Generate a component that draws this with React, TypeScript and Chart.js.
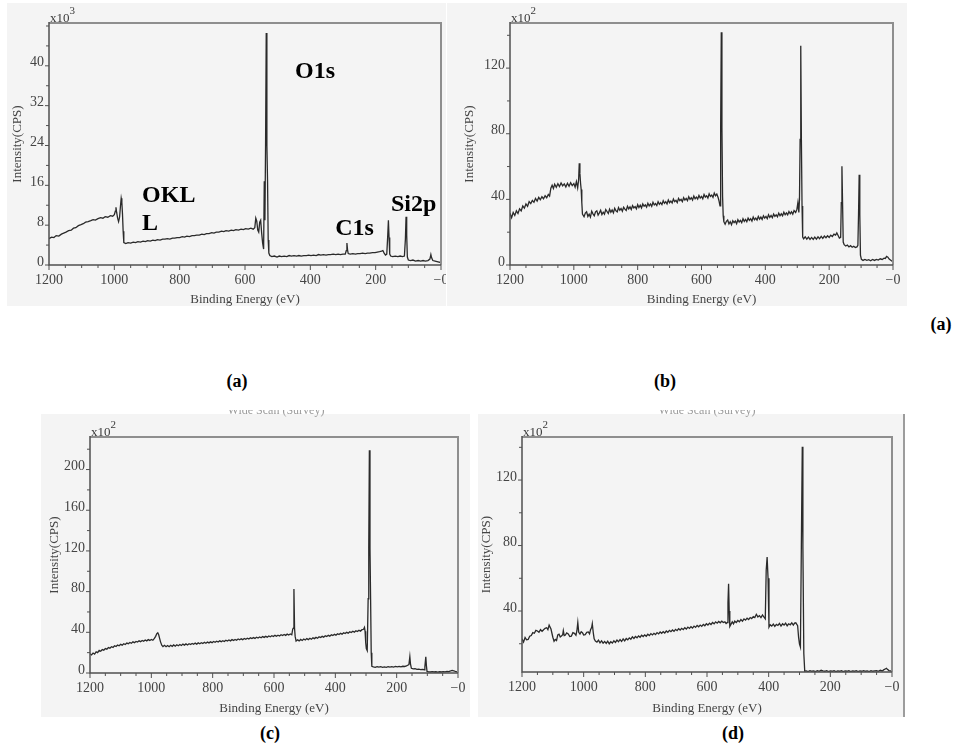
import React, { useEffect, useRef } from "react";
import { Chart, registerables } from "chart.js";

Chart.register(...registerables);

type Pt = [number, number];

// (a) survey, intensity in 10^3 CPS — [binding energy eV, intensity]
const spectrumA: Pt[] = [
  [1200, 5.3], [1192, 5.6], [1185, 5.5], [1178, 5.9], [1170, 5.8], [1162, 6.2], [1155, 6.4], [1148, 6.6],
  [1140, 6.9], [1132, 7.0], [1125, 7.4], [1118, 7.5], [1110, 7.9], [1102, 8.1], [1095, 8.3], [1088, 8.6],
  [1080, 8.7], [1072, 8.9], [1065, 9.1], [1058, 9.0], [1050, 9.3], [1042, 9.5], [1035, 9.4], [1028, 9.7],
  [1020, 9.6], [1012, 9.9], [1005, 9.8], [1000, 10.1], [997, 10.8], [995, 11.6], [993, 10.6], [990, 9.4],
  [987, 8.7], [984, 9.6], [981, 12.0], [979, 13.4], [977, 12.6], [975, 10.2], [973, 6.8], [971, 4.5],
  [965, 4.3], [958, 4.5], [950, 4.4], [942, 4.6], [935, 4.5], [928, 4.7], [920, 4.6], [912, 4.8],
  [905, 4.7], [898, 4.9], [890, 4.8], [882, 5.0], [875, 4.9], [868, 5.1], [860, 5.0], [852, 5.2],
  [845, 5.2], [838, 5.3], [830, 5.2], [822, 5.4], [815, 5.4], [808, 5.5], [800, 5.5], [792, 5.7],
  [785, 5.6], [778, 5.8], [770, 5.7], [762, 5.9], [755, 5.9], [748, 6.0], [740, 6.0], [732, 6.2],
  [725, 6.1], [718, 6.3], [710, 6.3], [702, 6.5], [695, 6.4], [688, 6.6], [680, 6.6], [672, 6.8],
  [665, 6.7], [658, 6.9], [650, 6.8], [642, 7.0], [635, 6.9], [628, 7.1], [620, 7.0], [612, 7.2],
  [605, 7.1], [598, 7.3], [590, 7.2], [582, 7.4], [575, 7.2], [570, 7.5], [567, 9.4], [564, 8.8],
  [561, 7.0], [558, 6.6], [555, 8.6], [552, 9.0], [549, 6.4], [546, 4.4], [543, 3.2], [541, 16.8],
  [539, 9.0], [537, 24.5], [535, 46.6], [533, 24.0], [531, 17.0], [529, 5.0], [527, 2.4], [524, 1.9],
  [518, 1.7], [510, 1.8], [502, 1.6], [495, 1.8], [488, 1.7], [480, 1.8], [472, 1.7], [465, 1.9],
  [458, 1.8], [450, 1.9], [442, 1.8], [435, 1.9], [428, 1.8], [420, 1.9], [412, 1.9], [405, 2.0],
  [398, 1.9], [390, 2.0], [382, 1.9], [375, 2.1], [368, 2.0], [360, 2.1], [352, 2.0], [345, 2.1],
  [338, 2.1], [330, 2.2], [322, 2.1], [315, 2.2], [308, 2.1], [300, 2.2], [293, 2.2], [290, 2.9],
  [288, 4.4], [286, 3.0], [284, 2.3], [278, 2.2], [270, 2.3], [262, 2.2], [255, 2.3], [248, 2.3],
  [240, 2.4], [232, 2.3], [225, 2.4], [218, 2.4], [210, 2.5], [202, 2.5], [195, 2.6], [188, 2.7],
  [182, 2.8], [178, 2.9], [174, 2.4], [170, 2.0], [166, 2.2], [163, 6.0], [161, 9.0], [159, 5.5],
  [157, 2.2], [154, 1.8], [148, 1.7], [140, 1.8], [132, 1.7], [125, 1.8], [118, 1.7], [112, 1.8],
  [109, 5.2], [107, 9.7], [105, 6.0], [103, 1.6], [100, 1.0], [93, 0.9], [86, 1.0], [78, 0.8],
  [70, 0.9], [62, 0.8], [55, 0.9], [48, 0.8], [40, 0.9], [34, 1.2], [31, 2.1], [29, 1.5],
  [25, 0.9], [18, 0.8], [12, 0.7], [6, 0.6], [0, 0.5],
];

// (b) survey, intensity in 10^2 CPS
const spectrumB: Pt[] = [
  [1200, 31.5], [1195, 28.8], [1190, 32.0], [1185, 30.2], [1180, 33.0], [1175, 31.4], [1170, 34.2], [1165, 33.0],
  [1160, 36.0], [1155, 34.6], [1150, 37.2], [1145, 35.8], [1140, 38.6], [1135, 37.4], [1130, 39.4], [1125, 38.2],
  [1120, 40.6], [1115, 39.0], [1110, 41.2], [1105, 39.8], [1100, 41.6], [1095, 40.4], [1090, 42.2], [1085, 41.0],
  [1080, 43.0], [1076, 42.0], [1072, 46.8], [1068, 48.6], [1064, 46.6], [1060, 49.2], [1055, 47.4], [1050, 49.6],
  [1045, 47.8], [1040, 50.0], [1035, 48.2], [1030, 49.4], [1025, 47.6], [1020, 49.8], [1015, 48.0], [1010, 50.2],
  [1005, 48.4], [1000, 49.6], [996, 47.4], [992, 50.8], [988, 47.0], [985, 52.0], [983, 62.0], [981, 56.0],
  [979, 50.0], [977, 46.0], [975, 38.0], [973, 31.0],
  [968, 29.4], [964, 31.6], [960, 32.4], [956, 29.6], [952, 31.0], [948, 29.2], [944, 32.8], [940, 31.2],
  [936, 30.0], [932, 32.4], [928, 33.0], [924, 30.4], [920, 31.8], [916, 33.4], [912, 30.8], [908, 32.2],
  [904, 31.0], [900, 33.8], [896, 32.6], [892, 31.4], [888, 34.0], [884, 32.2], [880, 33.6], [876, 31.8],
  [872, 34.6], [868, 33.0], [864, 32.4], [860, 35.0], [856, 33.4], [852, 34.4], [848, 32.8], [844, 35.2],
  [840, 34.0], [836, 33.2], [832, 35.8], [828, 34.2], [824, 35.4], [820, 33.8], [816, 36.2], [812, 34.8],
  [808, 35.6], [804, 34.2], [800, 36.8], [796, 35.0], [792, 36.4], [788, 34.8], [784, 37.2], [780, 35.8],
  [776, 36.6], [772, 35.2], [768, 37.6], [764, 36.0], [760, 37.2], [756, 35.8], [752, 38.2], [748, 36.6],
  [744, 37.4], [740, 36.2], [736, 38.6], [732, 37.0], [728, 38.0], [724, 36.8], [720, 39.2], [716, 37.6],
  [712, 38.6], [708, 37.2], [704, 39.6], [700, 38.0], [696, 39.0], [692, 37.8], [688, 40.2], [684, 38.6],
  [680, 39.4], [676, 38.0], [672, 40.6], [668, 39.2], [664, 40.0], [660, 38.6], [656, 41.0], [652, 39.6],
  [648, 40.6], [644, 39.2], [640, 41.6], [636, 40.0], [632, 41.0], [628, 39.6], [624, 42.0], [620, 40.4],
  [616, 41.4], [612, 40.2], [608, 42.4], [604, 40.8], [600, 41.8], [596, 40.4], [592, 43.0], [588, 41.4],
  [584, 42.2], [580, 40.8], [576, 43.4], [572, 41.8], [568, 42.6], [564, 41.2], [560, 43.8], [556, 42.2],
  [552, 43.2], [548, 41.2], [545, 39.0], [542, 36.0], [540, 84.0], [538, 141.8], [536, 84.0], [534, 42.0],
  [532, 30.0], [530, 26.4], [526, 24.8], [522, 26.6], [518, 27.4], [514, 25.0], [510, 26.4], [506, 24.6],
  [502, 27.0], [498, 25.8], [494, 26.8], [490, 25.2], [486, 27.6], [482, 26.2], [478, 27.2], [474, 25.8],
  [470, 28.2], [466, 26.6], [462, 27.8], [458, 26.4], [454, 28.6], [450, 27.2], [446, 28.2], [442, 26.8],
  [438, 29.2], [434, 27.6], [430, 28.6], [426, 27.4], [422, 29.6], [418, 28.0], [414, 29.2], [410, 27.8],
  [406, 30.0], [402, 28.6], [398, 29.6], [394, 28.2], [390, 30.6], [386, 29.0], [382, 30.2], [378, 28.8],
  [374, 31.0], [370, 29.6], [366, 30.6], [362, 29.4], [358, 31.6], [354, 30.0], [350, 31.2], [346, 30.0],
  [342, 32.2], [338, 30.6], [334, 31.8], [330, 30.6], [326, 32.6], [322, 31.2], [318, 32.4], [314, 31.0],
  [310, 33.2], [305, 32.0], [301, 34.0], [298, 38.0],
  [295, 32.0], [293, 40.0], [291, 76.5], [289, 133.7], [287, 76.0], [285, 36.0], [283, 17.0], [280, 16.0],
  [275, 17.2], [270, 15.8], [265, 17.0], [260, 15.6], [255, 16.8], [250, 15.6], [245, 17.0], [240, 15.8],
  [235, 17.2], [230, 16.0], [225, 17.4], [220, 16.2], [215, 17.6], [210, 16.6], [205, 17.8], [200, 16.8],
  [195, 18.2], [190, 17.4], [185, 18.8], [180, 18.2], [176, 19.6], [172, 18.0], [168, 16.4], [164, 16.8],
  [162, 38.0], [160, 60.2], [158, 38.0], [156, 14.0], [153, 12.4], [148, 11.6], [143, 12.2], [138, 11.0],
  [133, 11.8], [128, 10.8], [123, 11.4], [118, 10.6], [113, 11.0], [110, 12.0], [108, 31.0], [106, 55.0],
  [104, 31.0], [102, 6.0], [99, 3.4], [94, 2.8], [88, 3.4], [82, 2.8], [76, 3.2], [70, 2.6],
  [64, 3.4], [58, 2.8], [52, 3.4], [46, 3.0], [40, 3.8], [34, 3.4], [28, 4.2], [24, 4.0],
  [20, 5.2], [16, 4.8], [12, 3.6], [8, 3.0], [4, 2.4], [0, 2.0],
];

// (c) survey, intensity in 10^2 CPS
const spectrumC: Pt[] = [
  [1200, 19.0], [1195, 17.8], [1190, 19.6], [1185, 18.6], [1180, 20.8], [1175, 20.0], [1170, 22.2], [1165, 21.4],
  [1160, 23.0], [1155, 22.4], [1150, 24.0], [1145, 23.4], [1140, 25.0], [1135, 24.4], [1130, 25.8], [1125, 25.2],
  [1120, 26.8], [1115, 26.0], [1110, 27.4], [1105, 26.8], [1100, 28.2], [1095, 27.4], [1090, 28.8], [1085, 28.0],
  [1080, 29.4], [1075, 28.8], [1070, 30.0], [1065, 29.2], [1060, 30.6], [1055, 29.8], [1050, 31.0], [1045, 30.4],
  [1040, 31.6], [1035, 30.8], [1030, 32.0], [1025, 31.2], [1020, 32.4], [1015, 31.6], [1010, 32.8], [1005, 32.0],
  [1000, 33.0], [995, 32.2], [990, 34.0], [986, 36.0], [982, 38.8], [979, 39.6], [976, 37.6], [973, 34.0],
  [970, 30.6], [966, 27.4], [962, 26.0], [957, 27.2], [952, 25.8], [947, 27.0], [942, 25.8], [937, 27.2],
  [932, 26.2], [927, 27.6], [922, 26.4], [917, 27.8], [912, 26.8], [907, 28.0], [902, 27.0], [897, 28.4],
  [892, 27.4], [887, 28.6], [882, 27.6], [877, 28.8], [872, 28.0], [867, 29.0], [862, 28.2], [857, 29.4],
  [852, 28.4], [847, 29.6], [842, 28.8], [837, 29.8], [832, 29.0], [827, 30.2], [822, 29.2], [817, 30.4],
  [812, 29.6], [807, 30.6], [802, 29.8], [797, 31.0], [792, 30.2], [787, 31.2], [782, 30.4], [777, 31.6],
  [772, 30.8], [767, 31.8], [762, 31.0], [757, 32.2], [752, 31.4], [747, 32.4], [742, 31.6], [737, 32.8],
  [732, 32.0], [727, 33.0], [722, 32.2], [717, 33.4], [712, 32.6], [707, 33.6], [702, 32.8], [697, 34.0],
  [692, 33.2], [687, 34.2], [682, 33.4], [677, 34.6], [672, 33.8], [667, 34.8], [662, 34.0], [657, 35.2],
  [652, 34.4], [647, 35.4], [642, 34.6], [637, 35.8], [632, 35.0], [627, 36.0], [622, 35.2], [617, 36.4],
  [612, 35.6], [607, 36.6], [602, 35.8], [597, 37.0], [592, 36.2], [587, 37.2], [582, 36.4], [577, 37.6],
  [572, 36.8], [567, 37.8], [562, 37.0], [557, 38.2], [552, 37.4], [547, 38.4], [542, 37.6], [539, 43.0],
  [537, 44.0], [535, 82.6], [533, 44.0], [531, 36.0], [528, 31.4], [523, 32.6], [518, 31.6], [513, 33.0],
  [508, 32.0], [503, 33.4], [498, 32.4], [493, 33.8], [488, 32.8], [483, 34.2], [478, 33.2], [473, 34.6],
  [468, 33.8], [463, 35.0], [458, 34.2], [453, 35.6], [448, 34.8], [443, 36.0], [438, 35.2], [433, 36.6],
  [428, 35.8], [423, 37.0], [418, 36.2], [413, 37.6], [408, 36.8], [403, 38.0], [398, 37.2], [393, 38.6],
  [388, 37.8], [383, 39.0], [378, 38.2], [373, 39.6], [368, 38.8], [363, 40.0], [358, 39.2], [353, 40.6],
  [348, 39.8], [343, 41.0], [338, 40.2], [333, 41.6], [328, 40.8], [323, 42.0], [318, 41.2], [313, 42.6],
  [308, 43.0], [305, 44.8], [303, 41.0], [301, 30.0], [299, 24.0], [296, 22.0], [293, 73.0], [291, 123.0],
  [289, 219.0], [287, 123.0], [285, 73.0], [283, 20.0], [281, 6.6], [276, 6.0], [270, 5.6], [264, 6.2],
  [258, 5.8], [252, 6.2], [246, 5.6], [240, 6.0], [234, 5.6], [228, 6.2], [222, 5.8], [216, 6.2],
  [210, 5.8], [204, 6.4], [198, 6.0], [192, 6.4], [186, 6.0], [180, 6.6], [174, 6.4], [168, 7.0],
  [164, 7.6], [160, 8.2], [157, 16.0], [155, 9.0], [152, 4.6], [146, 4.0], [140, 4.2], [134, 3.6],
  [128, 3.8], [122, 3.4], [116, 3.6], [110, 3.2], [108, 6.0], [105, 16.0], [103, 7.0], [101, 1.6],
  [96, 1.2], [90, 1.0], [84, 1.4], [78, 1.0], [72, 1.2], [66, 0.9], [60, 1.2], [54, 1.0],
  [48, 1.4], [42, 1.2], [36, 1.6], [30, 1.4], [24, 2.0], [19, 2.6], [14, 2.2], [9, 1.6],
  [4, 1.2], [0, 0.8],
];

// (d) survey, intensity in 10^2 CPS
const spectrumD: Pt[] = [
  [1200, 23.0], [1195, 21.0], [1190, 23.8], [1185, 22.4], [1180, 22.6], [1175, 24.6], [1170, 25.0], [1165, 26.8],
  [1160, 26.4], [1155, 28.2], [1150, 27.8], [1145, 27.0], [1140, 28.6], [1135, 27.6], [1130, 28.6], [1125, 29.4],
  [1120, 29.8], [1116, 28.6], [1112, 31.4], [1106, 29.0], [1100, 24.0], [1096, 21.5], [1092, 22.6], [1088, 22.0],
  [1084, 25.4], [1080, 25.8], [1076, 24.2], [1072, 24.8], [1068, 25.6], [1066, 28.0], [1063, 25.0], [1060, 25.2],
  [1055, 26.6], [1050, 26.0], [1045, 24.4], [1040, 24.6], [1035, 26.8], [1030, 26.4], [1025, 25.2], [1022, 27.8],
  [1019, 33.0], [1016, 27.0], [1012, 26.0], [1008, 27.4], [1004, 26.8], [1000, 25.4], [995, 25.6], [990, 27.0],
  [985, 27.2], [981, 26.0], [978, 28.4], [974, 30.0], [972, 32.2], [969, 27.0], [966, 23.0], [962, 21.6],
  [957, 21.0], [952, 22.2], [947, 20.6], [942, 21.8], [937, 20.4], [932, 21.4], [927, 20.2], [922, 21.6],
  [917, 20.0], [912, 21.2], [907, 20.4], [902, 21.8], [897, 20.8], [892, 22.2], [887, 21.2], [882, 22.6],
  [877, 21.4], [872, 23.0], [867, 21.8], [862, 23.2], [857, 22.4], [852, 23.6], [847, 22.8], [842, 24.2],
  [837, 23.2], [832, 24.4], [827, 23.6], [822, 24.8], [817, 24.0], [812, 25.2], [807, 24.4], [802, 25.4],
  [797, 24.6], [792, 25.8], [787, 25.0], [782, 26.2], [777, 25.4], [772, 26.4], [767, 25.6], [762, 26.8],
  [757, 26.0], [752, 27.2], [747, 26.4], [742, 27.4], [737, 26.6], [732, 27.8], [727, 27.0], [722, 28.2],
  [717, 27.4], [712, 28.4], [707, 27.6], [702, 28.8], [697, 28.0], [692, 29.2], [687, 28.4], [682, 29.4],
  [677, 28.6], [672, 29.8], [667, 29.0], [662, 30.2], [657, 29.4], [652, 30.4], [647, 29.6], [642, 30.8],
  [637, 30.0], [632, 31.2], [627, 30.4], [622, 31.4], [617, 30.6], [612, 31.8], [607, 31.0], [602, 32.2],
  [597, 31.4], [592, 32.6], [587, 31.8], [582, 33.0], [577, 32.2], [572, 33.4], [567, 32.6], [562, 33.6],
  [557, 32.8], [552, 33.8], [547, 33.0], [542, 33.4], [538, 32.4], [534, 33.0], [532, 45.0], [530, 56.7],
  [528, 40.0], [526, 30.6], [522, 32.0], [518, 33.4], [514, 32.2], [510, 33.8], [505, 33.0], [500, 34.2],
  [495, 33.4], [490, 34.8], [485, 33.8], [480, 35.2], [475, 34.4], [470, 35.6], [465, 34.8], [460, 36.0],
  [455, 35.4], [450, 36.6], [445, 36.0], [440, 38.0], [435, 36.4], [430, 37.2], [425, 36.0], [420, 37.6],
  [415, 36.2], [411, 35.2], [408, 64.9], [405, 73.0], [402, 60.0], [399, 30.2], [395, 31.6], [390, 30.8],
  [385, 32.0], [380, 30.6], [375, 31.8], [370, 31.2], [365, 32.4], [360, 30.8], [355, 32.2], [350, 31.4],
  [345, 32.6], [340, 31.0], [335, 32.2], [330, 31.6], [325, 32.8], [320, 31.4], [316, 32.6], [312, 32.8],
  [306, 31.0], [303, 24.0], [300, 19.8], [297, 18.0], [294, 79.2], [291, 140.4], [289, 79.2], [286, 14.0],
  [283, 3.2], [278, 3.4], [272, 3.0], [266, 3.6], [260, 3.2], [254, 3.4], [248, 3.0], [242, 3.6],
  [236, 3.2], [230, 3.8], [224, 3.4], [218, 3.2], [212, 3.6], [206, 3.0], [200, 3.4], [194, 3.2],
  [188, 3.6], [182, 3.0], [176, 3.4], [170, 3.2], [164, 3.6], [158, 3.0], [152, 3.4], [146, 3.2],
  [140, 3.6], [134, 3.0], [128, 3.4], [122, 3.2], [116, 3.6], [110, 3.0], [104, 3.4], [98, 3.2],
  [92, 3.6], [86, 3.2], [80, 3.4], [74, 3.0], [68, 3.6], [62, 3.2], [56, 3.4], [50, 3.6],
  [44, 3.2], [38, 3.8], [32, 3.4], [26, 4.2], [22, 4.6], [18, 5.0], [14, 4.2], [10, 3.6],
  [5, 3.4], [0, 3.2],
];

const energyTicks = [1200, 1000, 800, 600, 400, 200, 0];
const energyTickLabels = ["1200", "1000", "800", "600", "400", "200", "\u22120"];
const yTicksA = [0, 8, 16, 24, 32, 40];
const yTicksB = [0, 40, 80, 120];
const yTicksC = [0, 40, 80, 120, 160, 200];
const yTicksD = [40, 80, 120];

const peakLabelsA = [
  { text: "O1s", energy: 447, intensity: 37.6 },
  { text: "OKL", energy: 915, intensity: 12.7 },
  { text: "L", energy: 915, intensity: 7.0 },
  { text: "C1s", energy: 324, intensity: 6.1 },
  { text: "Si2p", energy: 153, intensity: 10.9 },
];

const SERIF = '"Liberation Serif", "Times New Roman", serif';

type Box = { left: number; top: number; right: number; bottom: number };
type PeakLabel = { text: string; energy: number; intensity: number };

// axis frame, tick marks, exponent note and peak names
const framePlugin = {
  id: "frame",
  afterDatasetsDraw(chart: any, _args: any, opts: any) {
    const { ctx, chartArea: a } = chart;
    const xs = chart.scales.x;
    const ys = chart.scales.y;
    ctx.save();
    ctx.lineCap = "butt";
    ctx.strokeStyle = "#8e8e8e";
    ctx.lineWidth = 2;
    ctx.beginPath();
    ctx.moveTo(a.left, a.top);
    ctx.lineTo(a.right, a.top);
    ctx.lineTo(a.right, a.bottom);
    ctx.stroke();
    ctx.strokeStyle = "#505050";
    ctx.lineWidth = 1.5;
    ctx.beginPath();
    ctx.moveTo(a.left, a.top - 1);
    ctx.lineTo(a.left, a.bottom);
    ctx.lineTo(a.right, a.bottom);
    ctx.stroke();

    ctx.lineWidth = 1;
    ctx.beginPath();
    for (let e = 0; e <= 1200; e += 50) {
      const px = xs.getPixelForValue(e);
      const len = e % 200 === 0 ? 5 : 3;
      ctx.moveTo(px, a.bottom);
      ctx.lineTo(px, a.bottom + len);
    }
    const step = opts.minorStep;
    for (let v = Math.ceil(ys.min / step) * step; v <= ys.max; v += step) {
      const py = ys.getPixelForValue(v);
      const len = opts.majorTicks.includes(v) ? 4 : 3;
      ctx.moveTo(a.left - len, py);
      ctx.lineTo(a.left, py);
    }
    ctx.stroke();

    ctx.fillStyle = "#3a3a3a";
    ctx.textBaseline = "alphabetic";
    ctx.textAlign = "left";
    ctx.font = `13px ${SERIF}`;
    ctx.fillText("x10", a.left + 1, a.top - 1);
    const w = ctx.measureText("x10").width;
    ctx.font = `11px ${SERIF}`;
    ctx.fillText(opts.exponent, a.left + 1 + w, a.top - 9);

    ctx.fillStyle = "#000";
    ctx.font = `bold 24px ${SERIF}`;
    for (const l of opts.peaks as PeakLabel[]) {
      ctx.fillText(l.text, xs.getPixelForValue(l.energy), ys.getPixelForValue(l.intensity));
    }
    ctx.restore();
  },
};

type PanelProps = {
  data: Pt[];
  yTicks: number[];
  yMin: number;
  yMax: number;
  yMinorStep: number;
  exponent: string;
  bg: Box;
  plot: Box;
  yTitlePad: number;
  xTitlePad: number;
  peaks?: PeakLabel[];
};

function SpectrumPanel(p: PanelProps) {
  const ref = useRef<HTMLCanvasElement>(null);
  const w = p.bg.right - p.bg.left;
  const h = p.bg.bottom - p.bg.top;

  useEffect(() => {
    if (!ref.current) return;
    const tickFont = { family: SERIF, size: 14 };
    const titleFont = { family: SERIF, size: 13, lineHeight: 1 };
    const chart = new Chart(ref.current, {
      type: "line",
      data: {
        datasets: [
          {
            data: p.data.map(([x, y]) => ({ x, y })),
            borderColor: "#2a2a2a",
            borderWidth: 1.3,
            pointRadius: 0,
            tension: 0,
            fill: false,
          },
        ],
      },
      options: {
        animation: false,
        responsive: false,
        maintainAspectRatio: false,
        events: [],
        layout: {
          autoPadding: false,
          padding: {
            top: p.plot.top - p.bg.top,
            right: p.bg.right - p.plot.right,
            left: 0,
            bottom: 0,
          },
        },
        plugins: {
          legend: { display: false },
          tooltip: { enabled: false },
          frame: {
            minorStep: p.yMinorStep,
            majorTicks: p.yTicks,
            exponent: p.exponent,
            peaks: p.peaks || [],
          },
        } as any,
        scales: {
          x: {
            type: "linear",
            min: 0,
            max: 1200,
            reverse: true,
            grid: { display: false, drawTicks: false },
            border: { display: false },
            afterBuildTicks: (s: any) => {
              s.ticks = energyTicks.map((v) => ({ value: v }));
            },
            afterFit: (s: any) => {
              s.height = p.bg.bottom - p.plot.bottom;
              s.paddingLeft = 0;
              s.paddingRight = 0;
            },
            ticks: {
              autoSkip: false,
              maxRotation: 0,
              padding: 7,
              color: "#444",
              font: tickFont,
              callback: (v: any) => energyTickLabels[energyTicks.indexOf(Number(v))] ?? "",
            },
            title: {
              display: true,
              text: "Binding Energy (eV)",
              color: "#444",
              font: titleFont,
              padding: { top: 0, bottom: p.xTitlePad },
            },
          },
          y: {
            type: "linear",
            min: p.yMin,
            max: p.yMax,
            grid: { display: false, drawTicks: false },
            border: { display: false },
            afterBuildTicks: (s: any) => {
              s.ticks = p.yTicks.map((v) => ({ value: v }));
            },
            afterFit: (s: any) => {
              s.width = p.plot.left - p.bg.left;
              s.paddingTop = 0;
              s.paddingBottom = 0;
            },
            ticks: {
              autoSkip: false,
              padding: 5,
              labelOffset: -3,
              color: "#444",
              font: tickFont,
              callback: (v: any) => String(v),
            },
            title: {
              display: true,
              text: "Intensity(CPS)",
              color: "#444",
              font: titleFont,
              padding: { top: p.yTitlePad, bottom: 0 },
            },
          },
        },
      } as any,
      plugins: [framePlugin as any],
    });
    return () => chart.destroy();
  }, []);

  return (
    <canvas
      ref={ref}
      width={w}
      height={h}
      style={{
        position: "absolute",
        left: p.bg.left,
        top: p.bg.top,
        width: w,
        height: h,
        background: "#f4f4f4",
      }}
    />
  );
}

function Caption({ text, x, y }: { text: string; x: number; y: number }) {
  return (
    <div
      style={{
        position: "absolute",
        left: x,
        top: y,
        transform: "translate(-50%, -50%)",
        fontFamily: SERIF,
        fontWeight: "bold",
        fontSize: 18,
        lineHeight: 1,
        color: "#000",
        whiteSpace: "nowrap",
      }}
    >
      {text}
    </div>
  );
}

function CutTitle({ x }: { x: number }) {
  return (
    <div
      style={{
        position: "absolute",
        left: x - 60,
        top: 410,
        width: 120,
        height: 7,
        overflow: "hidden",
        zIndex: 2,
      }}
    >
      <div
        style={{
          position: "absolute",
          top: -6,
          width: 120,
          textAlign: "center",
          fontFamily: SERIF,
          fontSize: 12,
          lineHeight: 1,
          color: "#9a9a9a",
          whiteSpace: "nowrap",
        }}
      >
        Wide Scan (Survey)
      </div>
    </div>
  );
}

export default function App() {
  return (
    <div
      style={{
        position: "absolute",
        left: 0,
        top: 0,
        width: 958,
        height: 747,
        background: "#fff",
        overflow: "hidden",
      }}
    >
      <SpectrumPanel
        data={spectrumA}
        yTicks={yTicksA}
        yMin={0}
        yMax={48.6}
        yMinorStep={4}
        exponent="3"
        bg={{ left: 7, top: 3, right: 446, bottom: 306 }}
        plot={{ left: 49, top: 23, right: 441, bottom: 265 }}
        yTitlePad={4}
        xTitlePad={0}
        peaks={peakLabelsA}
      />
      <SpectrumPanel
        data={spectrumB}
        yTicks={yTicksB}
        yMin={0}
        yMax={147.5}
        yMinorStep={20}
        exponent="2"
        bg={{ left: 447, top: 3, right: 907, bottom: 306 }}
        plot={{ left: 510, top: 23, right: 893, bottom: 265 }}
        yTitlePad={16}
        xTitlePad={0}
      />
      <SpectrumPanel
        data={spectrumC}
        yTicks={yTicksC}
        yMin={0}
        yMax={232}
        yMinorStep={20}
        exponent="2"
        bg={{ left: 41, top: 414, right: 470, bottom: 717 }}
        plot={{ left: 90, top: 437, right: 458, bottom: 673 }}
        yTitlePad={7}
        xTitlePad={2}
      />
      <SpectrumPanel
        data={spectrumD}
        yTicks={yTicksD}
        yMin={2.75}
        yMax={146.3}
        yMinorStep={20}
        exponent="2"
        bg={{ left: 478, top: 414, right: 904, bottom: 717 }}
        plot={{ left: 522, top: 437, right: 892, bottom: 672 }}
        yTitlePad={2}
        xTitlePad={2}
      />
      <div
        style={{
          position: "absolute",
          left: 903,
          top: 414,
          width: 2,
          height: 303,
          background: "#9c9c9c",
        }}
      />
      <CutTitle x={276} />
      <CutTitle x={707} />
      <Caption text="(a)" x={941} y={324} />
      <Caption text="(a)" x={237} y={381} />
      <Caption text="(b)" x={665} y={381} />
      <Caption text="(c)" x={270} y={733} />
      <Caption text="(d)" x={733} y={733} />
    </div>
  );
}
